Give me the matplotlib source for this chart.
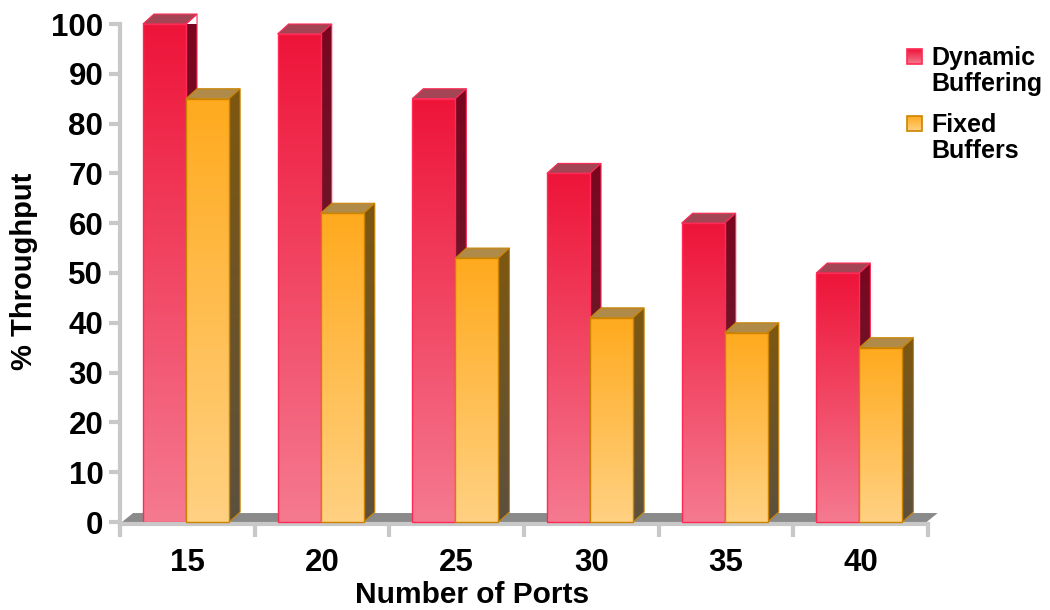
import numpy as np
import matplotlib
matplotlib.use("Agg")
import matplotlib.pyplot as plt
from matplotlib.patches import Polygon
from matplotlib.colors import to_rgb

plt.rcParams['font.family'] = ['Liberation Sans', 'DejaVu Sans']
plt.rcParams['font.weight'] = 'bold'

ports = ['15', '20', '25', '30', '35', '40']
dynamic = [100, 98, 85, 70, 60, 50]
fixed = [85, 62, 53, 41, 38, 35]
series_names = ['Dynamic\nBuffering', 'Fixed\nBuffers']
yticks = list(range(0, 101, 10))

# styles
RED = dict(top='#ee1439', bottom='#f57a90', side_top='#7a0620', side_bottom='#5e2a32',
           cap='#a44555', edge='#ff2a55')
ORG = dict(top='#ffaa1e', bottom='#ffd182', side_top='#7e5810', side_bottom='#5c503e',
           cap='#b08a48', edge='#cc8400')
DX, DY = 0.082, 2.0        # depth offset in data units
BW = 0.32                  # bar width in category units

W, H = 1050, 610
fig = plt.figure(figsize=(W / 100, H / 100), dpi=100)
ax = fig.add_axes([120 / W, (H - 522) / H, 808 / W, 498 / H])
ax.set_xlim(0, len(ports))
ax.set_ylim(0, 100)


def grad(c1, c2, n=256):
    a = np.array(to_rgb(c1)); b = np.array(to_rgb(c2))
    t = np.linspace(0, 1, n)[:, None]
    return (a * (1 - t) + b * t)[:, None, :]


def bar3d(x0, h, st, z):
    x1 = x0 + BW
    top = Polygon([(x0, h), (x1, h), (x1 + DX, h + DY), (x0 + DX, h + DY)],
                  closed=True, facecolor=st['cap'], edgecolor=st['edge'], lw=0.8,
                  zorder=z, clip_on=False)
    ax.add_patch(top)
    side = Polygon([(x1, 0), (x1 + DX, DY), (x1 + DX, h + DY), (x1, h)], closed=True,
                   facecolor='none', edgecolor=st['edge'], lw=0.8, zorder=z + 0.2, clip_on=False)
    ax.add_patch(side)
    im = ax.imshow(grad(st['side_top'], st['side_bottom']), extent=(x1, x1 + DX, 0, h + DY),
                   aspect='auto', origin='upper', zorder=z + 0.1, interpolation='bilinear')
    im.set_clip_path(side)
    im2 = ax.imshow(grad(st['top'], st['bottom']), extent=(x0, x1, 0, h),
                    aspect='auto', origin='upper', zorder=z + 0.3, interpolation='bilinear')
    front = Polygon([(x0, 0), (x1, 0), (x1, h), (x0, h)], closed=True,
                    facecolor='none', edgecolor=st['edge'], lw=1.0, zorder=z + 0.4, clip_on=False)
    ax.add_patch(front)
    im2.set_clip_path(front)


floor = Polygon([(0.015, 0), (len(ports) - 0.01, 0), (len(ports) - 0.01 + DX, 1.8), (0.015 + DX, 1.8)],
                closed=True, facecolor='#8a8a8a', edgecolor='none', zorder=1, clip_on=False)
ax.add_patch(floor)

for i, (d, f) in enumerate(zip(dynamic, fixed)):
    bar3d(i + 0.17, d, RED, 2 + i * 2)
    bar3d(i + 0.17 + BW, f, ORG, 3 + i * 2)

ax.set_xlim(0, len(ports))
ax.set_ylim(0, 100)

for s in ['top', 'right']:
    ax.spines[s].set_visible(False)
axc = '#c8c8c8'
ax.spines['left'].set_color(axc)
ax.spines['left'].set_linewidth(3)
ax.spines['left'].set_bounds(-1.8, 100)
ax.spines['bottom'].set_color(axc)
ax.spines['bottom'].set_linewidth(3)
ax.spines['bottom'].set_position(('data', -0.45))
ax.spines['bottom'].set_bounds(0, len(ports))

ax.set_yticks(yticks)
ax.set_yticklabels([str(v) for v in yticks], fontsize=22.5, fontweight='bold')
ax.tick_params(axis='y', length=8, width=3, color=axc, pad=4)

ax.set_xticks(np.arange(len(ports)) + 0.5)
ax.set_xticklabels(ports, fontsize=22.5, fontweight='bold')
ax.set_xticks(np.arange(len(ports) + 1), minor=True)
ax.tick_params(axis='x', which='major', length=0, pad=17)
ax.tick_params(axis='x', which='minor', length=9, width=3, color=axc)

fig.text(472 / W, 7 / H, 'Number of Ports', fontsize=21.5, fontweight='bold',
         ha='center', va='baseline')
fig.text(24 / W, (H - 271) / H, '% Throughput', fontsize=21, fontweight='bold',
         ha='center', va='center', rotation=90)

lg = fig.add_axes([0, 0, 1, 1], facecolor='none')
lg.set_xlim(0, W); lg.set_ylim(H, 0); lg.axis('off')
for k, (name, st, ytop) in enumerate(zip(series_names, [RED, ORG], [49, 116])):
    sq = Polygon([(907, ytop), (922, ytop), (922, ytop + 15), (907, ytop + 15)], closed=True,
                 facecolor='none', edgecolor=st['edge'], lw=1.2, zorder=3)
    lg.add_patch(sq)
    im = lg.imshow(grad(st['top'], st['bottom']), extent=(907, 922, ytop + 15, ytop),
                   aspect='auto', zorder=2, interpolation='bilinear')
    im.set_clip_path(sq)
    lg.text(931, ytop - 3, name, fontsize=18, fontweight='bold', ha='left', va='top',
            linespacing=1.1)
lg.set_xlim(0, W); lg.set_ylim(H, 0)

fig.savefig('out.png', dpi=100)
